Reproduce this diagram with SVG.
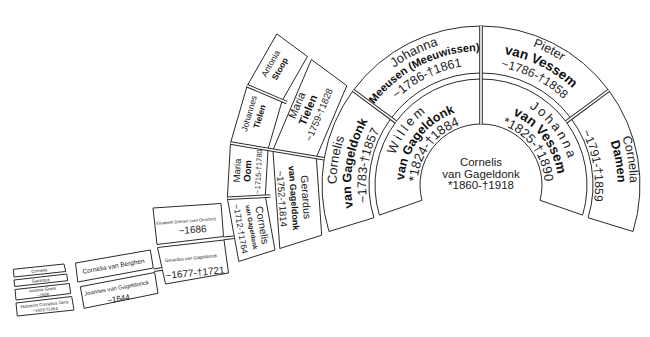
<svg xmlns="http://www.w3.org/2000/svg" width="650" height="337" viewBox="0 0 650 337">
<style>
.s{fill:#fff;stroke:#2b2b2b;stroke-width:1;stroke-linejoin:miter}
text{font-family:"Liberation Sans",Arial,sans-serif;fill:#222;text-anchor:middle}
.b{font-weight:bold;fill:#111}
.dlo{fill:none;stroke:#2b2b2b;stroke-width:3.6}
.dli{fill:none;stroke:#fff;stroke-width:1.6}
</style>
<defs>
<path id="w1" d="M393.75,210.85 A91,91 0 0 1 481,94"/>
<path id="w2" d="M407.17,206.87 A77,77 0 0 1 481,108"/>
<path id="w3" d="M420.11,203.04 A63.5,63.5 0 0 1 481,121.5"/>
<path id="j1" d="M481,94 A91,91 0 0 1 568.25,210.85"/>
<path id="j2" d="M481,108 A77,77 0 0 1 554.83,206.87"/>
<path id="j3" d="M481,121.5 A63.5,63.5 0 0 1 541.89,203.04"/>
<path id="c1" d="M342.81,227.25 A144.5,144.5 0 0 1 364.84,99.05"/>
<path id="c2" d="M356.68,223.01 A130,130 0 0 1 376.5,107.67"/>
<path id="c3" d="M371.03,218.62 A115,115 0 0 1 388.56,116.6"/>
<path id="m1" d="M363.64,98.15 A146,146 0 0 1 481,39"/>
<path id="m2" d="M373.28,105.29 A134,134 0 0 1 481,51"/>
<path id="m3" d="M384.54,113.62 A120,120 0 0 1 481,65"/>
<path id="p1" d="M481,37 A148,148 0 0 1 599.97,96.97"/>
<path id="p2" d="M481,52 A133,133 0 0 1 587.91,105.89"/>
<path id="p3" d="M481,66 A119,119 0 0 1 576.66,114.22"/>
<path id="d1" d="M600.77,96.38 A149,149 0 0 1 623.49,228.56"/>
<path id="d2" d="M590.72,103.81 A136.5,136.5 0 0 1 611.54,224.91"/>
<path id="d3" d="M572.64,117.19 A114,114 0 0 1 590.02,218.33"/>
</defs>
<rect width="650" height="337" fill="#fff"/>

<g id="n1">
<text x="481" y="165.5" font-size="11.5">Cornelis</text>
<text x="481" y="177.5" font-size="11.5">van Gageldonk</text>
<text x="481" y="189" font-size="11.5">*1860-†1918</text>
</g>

<g id="n2">
<path class="s" d="M379.37,215.11 A106,106 0 0 1 481,79 L481,124 A61,61 0 0 0 421.94,200.27 Z"/>
<text font-size="13" letter-spacing="2.8"><textPath href="#w1" startOffset="50%">Willem</textPath></text>
<text font-size="12.5" class="b"><textPath href="#w2" startOffset="50%">van Gageldonk</textPath></text>
<text font-size="13"><textPath href="#w3" startOffset="50%">*1824-†1884</textPath></text>
</g>
<g id="n3">
<path class="s" d="M481,79 A106,106 0 0 1 582.63,215.11 L540.06,200.27 A61,61 0 0 0 481,124 Z"/>
<text font-size="13" letter-spacing="2.5"><textPath href="#j1" startOffset="50%">Johanna</textPath></text>
<text font-size="13.5" class="b"><textPath href="#j2" startOffset="50%">van Vessem</textPath></text>
<text font-size="13"><textPath href="#j3" startOffset="50%">*1825-†1890</textPath></text>
</g>

<g id="n4">
<path class="s" d="M328.95,231.49 A159,159 0 0 1 353.19,90.42 L390.97,118.38 A112,112 0 0 0 373.89,217.75 Z"/>
<text font-size="13"><textPath href="#c1" startOffset="50%">Cornelis</textPath></text>
<text font-size="12.5" class="b"><textPath href="#c2" startOffset="50%">van Gageldonk</textPath></text>
<text font-size="12.5"><textPath href="#c3" startOffset="50%">~1783-†1857</textPath></text>
</g>
<g id="n5">
<path class="s" d="M353.19,90.42 A159,159 0 0 1 481,26 L481,73 A112,112 0 0 0 390.97,118.38 Z"/>
<text font-size="13"><textPath href="#m1" startOffset="50%">Johanna</textPath></text>
<text font-size="11" class="b"><textPath href="#m2" startOffset="50%">Meeusen (Meeuwissen)</textPath></text>
<text font-size="12.5"><textPath href="#m3" startOffset="50%">~1786-†1861</textPath></text>
</g>
<g id="n6">
<path class="s" d="M481,26 A159,159 0 0 1 608.81,90.42 L571.03,118.38 A112,112 0 0 0 481,73 Z"/>
<text font-size="12.5"><textPath href="#p1" startOffset="50%">Pieter</textPath></text>
<text font-size="13.5" class="b"><textPath href="#p2" startOffset="50%">van Vessem</textPath></text>
<text font-size="12"><textPath href="#p3" startOffset="50%">~1786-†1858</textPath></text>
</g>
<g id="n7">
<path class="s" d="M608.81,90.42 A159,159 0 0 1 633.05,231.49 L588.11,217.75 A112,112 0 0 0 571.03,118.38 Z"/>
<text font-size="12.5"><textPath href="#d1" startOffset="50%">Cornelia</textPath></text>
<text font-size="12.5" class="b"><textPath href="#d2" startOffset="50%">Damen</textPath></text>
<text font-size="12"><textPath href="#d3" startOffset="50%">~1791-†1859</textPath></text>
</g>

<g id="n8">
<polygon class="s" points="279.8,248.5 272.9,150.2 316.3,157.4 321.7,235.2"/>
<g transform="translate(294,198) rotate(86)">
<text y="-8.3" font-size="10.5">Gerardus</text>
<text y="3.2" font-size="9" class="b">van Gageldonk</text>
<text y="15.4" font-size="9.5">~1752-†1814</text>
</g>
</g>
<g id="n9">
<polygon class="s" points="272.9,150.2 311.4,59.5 346.8,85.7 316.3,157.4"/>
<g transform="translate(308,110) rotate(-67)">
<text y="-8.3" font-size="11">Maria</text>
<text y="3.7" font-size="11" class="b">Tielen</text>
<text y="15.4" font-size="9.5">~1759-†1828</text>
</g>
</g>

<g id="n10">
<polygon class="s" points="238.8,261.4 227.35,198.29 265.3,196.3 275,250"/>
<g transform="translate(251.5,227) rotate(80)">
<text y="-7.3" font-size="10.5">Cornelis</text>
<text y="2.2" font-size="6.3" class="b">van Gageldonk</text>
<text y="14" font-size="8.5">~1712-†1764</text>
</g>
</g>
<g id="n11">
<polygon class="s" points="227.35,198.29 230.48,143.08 268,149.3 265.3,196.3"/>
<g transform="translate(247.5,171) rotate(-87)">
<text y="-7.2" font-size="9.5">Maria</text>
<text y="3.4" font-size="9.5" class="b">Oom</text>
<text y="13.5" font-size="7.5">~1715-†1780</text>
</g>
</g>
<g id="n12">
<polygon class="s" points="230.48,143.08 247.19,85.75 282.2,100.6 268,149.3"/>
<g transform="translate(254,115) rotate(-73.75)">
<text y="-2.2" font-size="8.5">Johannes</text>
<text y="8.6" font-size="8.5" class="b">Tielen</text>
</g>
</g>
<g id="n13">
<polygon class="s" points="247.19,85.75 276.8,33.9 307.4,56.5 282.2,100.6"/>
<g transform="translate(275,66) rotate(-60)">
<text y="-2.2" font-size="8.5">Antonia</text>
<text y="8.6" font-size="8.5" class="b">Stoop</text>
</g>
</g>

<g id="n14">
<polygon class="s" points="153,208 221,203.5 223.5,236.5 157,244.5"/>
<text transform="translate(186,221) rotate(-4.5)" y="1.5" font-size="4.2">Elisabeth Dirksen (van Oirschot)</text>
<text transform="translate(192.5,229.5) rotate(-4.5)" y="3.6" font-size="10">~1686</text>
</g>
<g id="n15">
<polygon class="s" points="157.5,247.5 224,240 228.5,273 165.5,284"/>
<text transform="translate(191,258) rotate(-5.5)" y="1.6" font-size="4.5">Gerardus van Gageldonck</text>
<text transform="translate(195,272.5) rotate(-5.5)" y="3.6" font-size="10">~1677-†1721</text>
</g>

<g id="n16">
<polygon class="s" points="75.5,263 150.3,250 153.3,268 77.8,282"/>
<text transform="translate(113.5,266) rotate(-10)" y="2.3" font-size="6.5">Cornelia van Berghen</text>
</g>
<g id="n17">
<polygon class="s" points="80.3,286.7 154.7,272.5 158,293.3 84.2,308.3"/>
<text transform="translate(116.5,288) rotate(-10)" y="2" font-size="5.8">Joannes van Gageldonck</text>
<text transform="translate(118.5,298.5) rotate(-10)" y="2.9" font-size="8">~1644</text>
</g>

<g id="n18">
<polygon class="s" points="13.3,269.3 64,264 65.7,271.5 14,277"/>
<text transform="translate(39.3,270.6) rotate(-6)" y="1.5" font-size="4.3">Cornelia</text>
</g>
<g id="n19">
<polygon class="s" points="14,280 66.7,274 67.7,280.7 14.7,286.5"/>
<text transform="translate(40.8,280.4) rotate(-6)" y="1.5" font-size="4.3">Gerardus</text>
</g>
<g id="n20">
<polygon class="s" points="15,289.5 69.3,283.5 70.7,293.5 16,300"/>
<text transform="translate(42.5,289.6) rotate(-6)" y="1.5" font-size="4.3">Antonia Goels</text>
<text transform="translate(43,294.6) rotate(-6)" y="1.5" font-size="4.3">~1608</text>
</g>
<g id="n21">
<polygon class="s" points="16,303 71.7,296.5 74,310 17.3,316"/>
<text transform="translate(44.5,304.3) rotate(-6)" y="1.5" font-size="4.3">Hubrecht Cornelius Janis</text>
<text transform="translate(45,309.5) rotate(-6)" y="1.5" font-size="4.3">~1603-†1663</text>
</g>

<g id="connectors">
<path class="dlo" d="M481,124 L481,26 M395.79,121.95 L353.19,90.42 M566.21,121.95 L608.81,90.42 M324.18,158.76 L230.48,143.08 M270.29,196.04 L227.35,198.29 M286.77,102.56 L247.19,85.75 M223.8,238.4 L234,237.3 M154,270.3 L162.5,268.9"/>
<path class="dli" d="M481,124 L481,26 M395.79,121.95 L353.19,90.42 M566.21,121.95 L608.81,90.42 M324.18,158.76 L230.48,143.08 M270.29,196.04 L227.35,198.29 M286.77,102.56 L247.19,85.75 M223.8,238.4 L234,237.3 M154,270.3 L162.5,268.9"/>
</g>
</svg>
